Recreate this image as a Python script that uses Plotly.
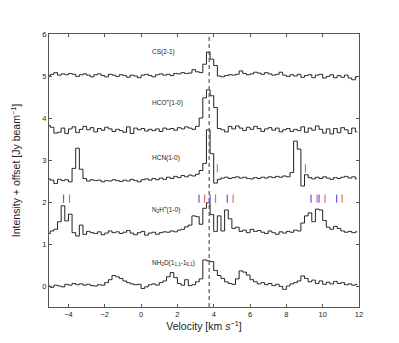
import numpy as np
import plotly.graph_objects as go

# channel centres [km/s]
velocity = [round(-5.1 + 0.2 * i, 1) for i in range(86)]
v_lsr = 3.75

# spectra (intensity above each offset, Jy/beam)
cs = [0.00, 0.04, 0.08, 0.02, 0.05, 0.03, 0.06, 0.04, -0.01, 0.03,
      0.05, 0.02, -0.02, 0.03, 0.05, 0.01, -0.02, 0.04, 0.02, -0.01,
      0.03, 0.01, -0.03, 0.02, 0.00, -0.04, 0.02, 0.04, 0.01, -0.02,
      0.03, 0.05, 0.02, 0.04, 0.01, 0.06, 0.05, 0.08, 0.06, 0.07,
      0.15, 0.10, 0.08, 0.28, 0.57, 0.40, 0.25, 0.00, -0.02, 0.01,
      0.03, 0.02, 0.04, 0.12, 0.06, 0.03, 0.05, 0.09, 0.07, 0.04,
      0.08, 0.05, 0.02, 0.04, 0.09, 0.02, -0.01, 0.03, 0.00, 0.04,
      -0.03, 0.01, 0.03, -0.04, 0.02, 0.04, -0.05, -0.01, 0.03, -0.04,
      0.01, -0.03, 0.02, -0.05, -0.09, -0.02]
hco = [0.12, 0.08, -0.06, -0.04, 0.06, -0.07, 0.04, 0.09, -0.05, 0.03,
       0.10, 0.02, 0.07, -0.03, 0.05, 0.01, 0.08, 0.04, -0.02, 0.03,
       0.00, -0.04, 0.09, -0.07, 0.06, 0.02, 0.05, -0.01, 0.03, 0.00,
       0.04, -0.02, 0.06, 0.03, 0.05, 0.01, 0.07, 0.04, 0.09, 0.06,
       0.03, 0.10, 0.30, 0.78, 0.97, 0.83, 0.55, 0.05, 0.02, -0.03,
       0.10, 0.04, 0.11, 0.06, 0.00, 0.08, 0.03, 0.10, 0.05, -0.02,
       0.04, 0.07, 0.01, 0.06, -0.03, 0.02, 0.05, -0.02, 0.03, 0.00,
       0.09, -0.04, 0.06, 0.01, 0.11, 0.03, -0.06, 0.04, -0.08, 0.05,
       -0.05, 0.07, 0.02, -0.07, 0.06, -0.03]
hcn = [0.05, 0.02, -0.06, 0.04, 0.01, 0.03, -0.02, 0.30, 0.78, 0.28,
       0.06, 0.00, 0.03, 0.01, 0.02, -0.02, 0.01, 0.00, 0.03, 0.01,
       -0.01, 0.02, 0.00, 0.04, 0.01, -0.02, 0.03, 0.05, 0.02, 0.06,
       0.03, 0.07, 0.04, 0.09, 0.06, 0.11, 0.08, 0.13, 0.10, 0.14,
       0.12, 0.16, 0.25, 0.42, 1.22, 0.65, -0.05, 0.04, 0.07, 0.09,
       0.06, 0.08, 0.10, 0.07, 0.09, 0.06, 0.05, 0.08, 0.06, 0.09,
       0.07, 0.10, 0.08, 0.11, 0.09, 0.12, 0.10, 0.20, 0.95, 0.76,
       -0.12, 0.15, 0.08, 0.05, 0.09, 0.06, 0.10, 0.07, 0.04, 0.08,
       0.06, 0.09, 0.11, 0.07, 0.10, 0.05]
n2h = [0.00, 0.06, 0.10, 0.28, 0.66, 0.30, 0.46, 0.02, -0.06, 0.20,
       -0.02, 0.05, 0.02, 0.00, 0.04, -0.03, 0.01, 0.06, 0.02, 0.04,
       0.00, 0.03, 0.07, 0.01, -0.03, 0.02, 0.05, -0.04, 0.01, 0.03,
       -0.02, 0.02, 0.04, 0.03, 0.06, 0.04, 0.08, 0.10, 0.16, 0.20,
       0.42, 0.40, 0.22, 0.60, 0.73, 0.45, 0.05, 0.42, 0.06, 0.56,
       0.35, 0.12, 0.15, 0.05, 0.08, 0.02, 0.10, 0.05, 0.07, 0.03,
       0.00, 0.06, 0.02, -0.02, 0.04, 0.01, 0.05, 0.03, 0.08, 0.06,
       0.25, 0.42, 0.49, 0.28, 0.58, 0.56, 0.31, 0.15, 0.10, 0.17,
       0.12, 0.06, 0.03, 0.05, 0.02, 0.04]
nh2d = [0.00, -0.03, 0.02, 0.00, -0.02, 0.04, 0.02, 0.06, 0.03, 0.05,
        0.02, 0.04, 0.01, 0.00, 0.03, 0.02, 0.08, 0.15, 0.25, 0.22,
        0.18, 0.12, 0.08, 0.05, 0.03, 0.04, -0.06, -0.02, 0.03, 0.05,
        0.02, 0.08, 0.12, 0.22, 0.32, 0.20, 0.06, 0.02, 0.15, 0.01,
        0.03, 0.10, 0.17, 0.62, 0.60, 0.58, 0.37, 0.25, 0.18, 0.10,
        0.06, 0.04, 0.17, 0.36, 0.33, 0.26, 0.15, 0.10, 0.05, 0.08,
        0.03, 0.06, 0.01, 0.04, -0.01, -0.08, 0.00, 0.05, 0.08, 0.12,
        0.24, 0.18, 0.10, 0.14, 0.06, 0.12, 0.04, 0.09, 0.05, 0.11,
        0.06, 0.08, 0.03, 0.05, 0.02, 0.04]

spectra = [nh2d, n2h, hcn, hco, cs]
offsets = [0.0, 1.25, 2.5, 3.7, 5.0]
labels = ["NH<sub>2</sub>D(1<sub>1,1</sub>-1<sub>0,1</sub>)",
          "N<sub>2</sub>H<sup>+</sup>(1-0)",
          "HCN(1-0)",
          "HCO<sup>+</sup>(1-0)",
          "CS(2-1)"]
label_y = [0.55, 1.83, 3.05, 4.38, 5.57]
label_x = 0.5

# hyperfine component markers
hcn_red = [4.2, 9.05]
hcn_mark_y = [2.7, 2.9]
n2h_blue = [-4.27, 3.19, 3.8, 4.75, 9.36, 9.8, 10.77]
n2h_red = [-3.94, 3.5, 4.1, 5.07, 9.69, 10.13, 11.07]
n2h_mark_y = [1.98, 2.18]

RED = "rgb(238,105,105)"
BLUE = "rgb(95,95,225)"


def ticks(xs, yr):
    x, y = [], []
    for v in xs:
        x += [v, v, None]
        y += [yr[0], yr[1], None]
    return x, y


fig = go.Figure()

for spec, off in zip(spectra, offsets):
    fig.add_trace(go.Scatter(x=velocity, y=np.array(spec) + off, mode="lines",
                             line=dict(color="#222", width=1, shape="hvh"),
                             showlegend=False))

for xs, yr, col in [(hcn_red, hcn_mark_y, RED), (n2h_red, n2h_mark_y, RED),
                    (n2h_blue, n2h_mark_y, BLUE)]:
    tx, ty = ticks(xs, yr)
    fig.add_trace(go.Scatter(x=tx, y=ty, mode="lines",
                             line=dict(color=col, width=1.2), showlegend=False))

fig.add_trace(go.Scatter(x=[v_lsr, v_lsr], y=[-0.5, 6], mode="lines",
                         line=dict(color="#555", width=1.2, dash="4px,3px"),
                         showlegend=False))

for txt, yy in zip(labels, label_y):
    fig.add_annotation(x=label_x, y=yy, text=txt, showarrow=False,
                       xanchor="left", yanchor="middle",
                       font=dict(size=6.5, color="#222"))

axis_style = dict(showline=True, linecolor="#555", linewidth=1, mirror="ticks",
                  ticks="inside", ticklen=3, tickcolor="#555", showgrid=False,
                  zeroline=False, automargin=False,
                  tickfont=dict(size=7.5, color="#222"))

fig.update_xaxes(range=[-5.07, 12], tickvals=[-4, -2, 0, 2, 4, 6, 8, 10, 12],
                 title=dict(text="Velocity [km <i>s</i><sup>−1</sup>]",
                            font=dict(size=10.5, color="#222"), standoff=4),
                 **axis_style)
fig.update_yaxes(range=[-0.5, 6], tickvals=[0, 1, 2, 3, 4, 5, 6],
                 title=dict(text="Intensity + offset [Jy beam<sup>−1</sup>]",
                            font=dict(size=10.5, color="#222"), standoff=19),
                 **axis_style)

# the page body adds an 8px margin, so the margins here are 8px smaller
fig.update_layout(width=399, height=343,
                  margin=dict(l=41, r=48, t=26, b=44),
                  paper_bgcolor="white", plot_bgcolor="white",
                  font=dict(family="Liberation Sans, Arial, sans-serif"))

fig.write_html("out.html")
